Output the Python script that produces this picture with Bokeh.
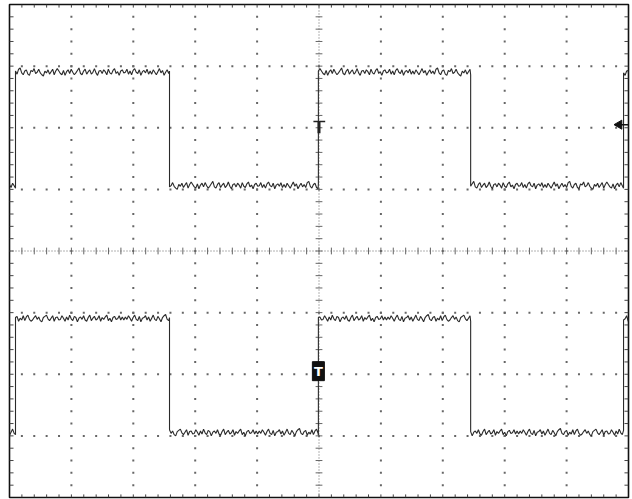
import numpy as np
from bokeh.plotting import figure
from bokeh.models import Range1d
from bokeh.embed import file_html
from bokeh.resources import INLINE
from bokeh.core.properties import value

# ---- data (oscilloscope divisions: 10 x 8, centre = 0) ----
edge_times = [0.097, 2.585, 4.99, 7.45, 9.92]      # transitions (div)
ch1_levels = [1.06, 2.90]                           # low, high (div)
ch2_levels = [-2.95, -1.10]                         # low, high (div)
ripple_a = [2, -3, 4, 0, -4, 1, 6, -1, 3, -5, 0, 4, -2, 2, -3, 5, 7, -1, -4, 2,
            4, -3, -5, 3, 1, 6, -2, 0, 5, -1, -4, -6, 2, -1, 4, -3, 1, 5, -4, 2,
            6, 2, -2, -4, 3, -5, 1, 4, -2, 5, 0, -4, -1, 3, 7, -2, -4, 2, 5, -3,
            1, 4, -3, 0, 6, -1, -5, 2, 3, -2, 4, 1, -4, 5, -1, -3, 3, 6, -2, 1,
            -5, 2, 4, -1, 0, 5, -3, 2, -4, 3, 6, 0, -2, 4, -5, 1, 3, -1, 5, -3]
ripple_b = [-2, 3, -1, 5, 1, -4, 2, 6, -1, -3, 4, -5, 1, 2, 5, -2, 3, -4, 1, 6,
            -1, -3, 4, 0, -5, 2, 5, 7, -1, -3, 2, 4, -4, 1, -2, 5, -3, 3, 6, -1,
            -4, -2, 2, 5, -1, 3, -3, -5, 2, 4, 6, 0, -3, 1, 5, -4, 2, 3, -2, -1,
            5, 1, -4, 3, -2, 6, 0, -3, 4, 2, -5, 1, 3, -1, 5, -2, -4, 2, 6, -3,
            1, 4, -2, 0, 5, -4, 2, -1, 3, 6, -3, 1, -5, 2, 4, -1, 0, 5, -2, 3]
trigger_level = 2.05
trigger_time = 4.99
ch2_marker = -1.95

W, H = 632, 499
p = figure(width=W, height=H, x_range=Range1d(0, 10), y_range=Range1d(-4, 4),
           x_axis_type=None, y_axis_type=None, toolbar_location=None,
           output_backend="svg", min_border_left=9, min_border_right=4,
           min_border_top=4, min_border_bottom=2)
p.grid.visible = False
p.background_fill_color = "white"
p.border_fill_color = "white"
p.outline_line_color = "#111111"
p.outline_line_width = 1.6

grid_col = "#666666"
# dotted division lines
gx, gy = [], []
for vx in range(1, 10):
    if vx == 5:
        continue
    for yy in np.arange(-3.8, 3.81, 0.2):
        gx.append(vx); gy.append(yy)
for hy in range(-3, 4):
    if hy == 0:
        continue
    for xx in np.arange(0.2, 9.81, 0.2):
        gx.append(xx); gy.append(hy)
p.scatter(gx, gy, marker="square", size=2, color=grid_col, line_width=0)

# centre lines
p.line([0, 10], [0, 0], line_color=grid_col, line_dash="1 2", line_width=1)
p.line([5, 5], [-4, 4], line_color=grid_col, line_dash="1 2", line_width=1)
tx = np.arange(0.2, 9.81, 0.2)
ty = np.arange(-3.8, 3.81, 0.2)
p.segment(tx, -0.055, tx, 0.055, line_color=grid_col, line_width=1)
p.segment(4.945, ty, 5.055, ty, line_color=grid_col, line_width=1)

# border ticks
p.segment(tx, 4, tx, 3.95, line_color="#444444", line_width=1)
p.segment(tx, -4, tx, -3.95, line_color="#444444", line_width=1)
p.segment(0, ty, 0.065, ty, line_color="#444444", line_width=1)
p.segment(10, ty, 9.935, ty, line_color="#444444", line_width=1)


def build(levels, ripple, shift):
    times = [0.0] + edge_times + [10.0]
    xs, ys = [], []
    for i in range(len(times) - 1):
        t0, t1 = times[i], times[i + 1]
        lvl = levels[i % 2]
        pts = list(np.arange(t0, t1, 0.025)) + [t1]
        for k, t in enumerate(pts):
            xs.append(t)
            ys.append(lvl + ripple[(k + shift + 13 * i) % len(ripple)] * 0.01)
    return xs, ys


x1, y1 = build(ch1_levels, ripple_a, 0)
x2, y2 = build(ch2_levels, ripple_b, 17)
p.line(x1, y1, line_color="#2a2a2a", line_width=1.1)
p.line(x2, y2, line_color="#2a2a2a", line_width=1.1)

# trigger level arrow (right) and trigger position marks
p.segment(9.85, trigger_level, 10, trigger_level, line_color="#111111", line_width=1.5)
p.scatter([9.85], [trigger_level], marker="triangle", angle=np.pi / 2,
          size=9, color="#111111")
p.segment(4.91, 2.10, 5.10, 2.10, line_color="#222222", line_width=1.5)
p.segment(5.0, 2.10, 5.0, 1.91, line_color="#222222", line_width=3)
p.rect([4.99], [ch2_marker], width=12, height=19, width_units="screen",
       height_units="screen", fill_color="#111111", line_color="#111111")
p.text([4.99], [ch2_marker], text=["T"], text_color="white",
       text_font=value("DejaVu Sans"), text_font_style="bold",
       text_font_size="13px", text_align="center", text_baseline="middle")

open("out.html", "w").write(file_html(p, INLINE))
